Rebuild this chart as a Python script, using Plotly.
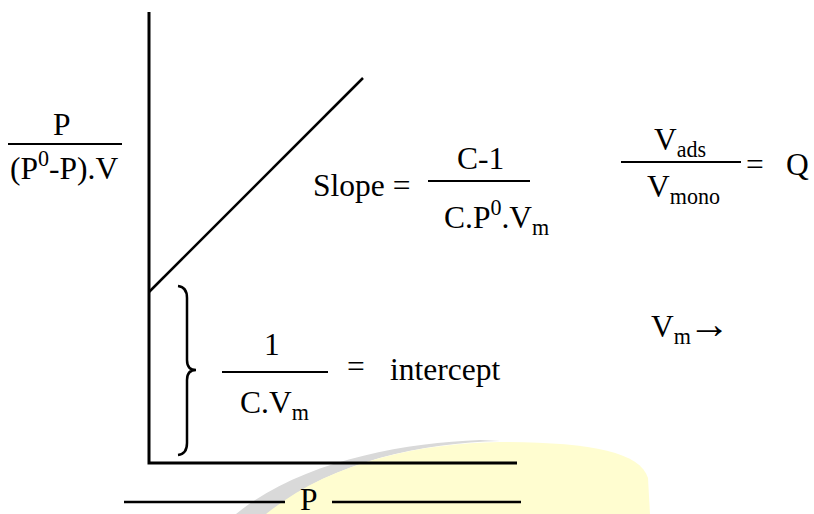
import plotly.graph_objects as go

# BET plot: P/((P0-P)V) against P is a straight line
intercept = 171.0          # 1 / (C.Vm)
slope = 1.0                # (C-1) / (C.P0.Vm)
p_line = [0.0, 214.0]      # pressure span of the fitted line
p_axis_max = 368.0         # extent of the P axis
y_axis_max = 451.0         # extent of the vertical axis

W, H = 814, 514
OX, OY = 149, 463          # page position of the plot origin

def d(xp, yp):
    """page pixel -> data coordinates"""
    return xp - OX, OY - yp

FONT = dict(family="Liberation Serif", size=31.5, color="black")

fig = go.Figure()

# axes of the diagram
fig.add_trace(go.Scatter(x=[0, 0, p_axis_max], y=[y_axis_max, 0, 0], mode="lines",
                         line=dict(color="black", width=3), hoverinfo="skip"))
# BET line
fig.add_trace(go.Scatter(x=p_line, y=[intercept + slope * p for p in p_line], mode="lines",
                         line=dict(color="black", width=2.5), hoverinfo="skip"))

shapes = []

def seg(x0, y0, x1, y1, w=2.5):
    a = d(x0, y0); b = d(x1, y1)
    shapes.append(dict(type="line", xref="x", yref="y", x0=a[0], y0=a[1], x1=b[0], y1=b[1],
                       line=dict(color="black", width=w)))

def svgpath(cmds, fill, lw=0, lc="rgba(0,0,0,0)", layer="below"):
    out = []
    for c in cmds:
        if isinstance(c, str):
            out.append(c)
        else:
            x, y = d(*c)
            out.append(f"{x},{y}")
    shapes.append(dict(type="path", xref="x", yref="y", path=" ".join(out),
                       fillcolor=fill, line=dict(color=lc, width=lw), layer=layer))

# soft yellow backdrop at the bottom with grey rim
svgpath(["M", (236, 514), "C", (300, 462), (400, 443), (480, 440), "L", (500, 441),
         "C", (420, 443), (330, 462), (268, 514), "Z"], "#d9d9d9")
svgpath(["M", (266, 514), "C", (330, 462), (420, 443), (500, 442), "C", (590, 442),
         (640, 452), (648, 478), "L", (650, 514), "Z"], "#fffdd0")

# pressure axis label rules
seg(124, 502, 285, 502)
seg(332, 502, 521, 502)

# fraction bars
seg(8, 144, 122, 144, 2)
seg(428, 181, 530, 181, 2)
seg(621, 162, 741, 162, 2)
seg(222, 372, 328, 372, 2)

# curly brace marking the intercept
svgpath(["M", (178, 286), "Q", (187, 287), (187, 298), "L", (187, 360),
         "Q", (187, 370), (196, 370), "Q", (187, 370), (187, 380), "L", (187, 443),
         "Q", (187, 454), (178, 455)], "rgba(0,0,0,0)", lw=2.5, lc="black", layer="above")

annotations = []

def txt(s, xp, yp, anchor="center", size=None):
    x, y = d(xp, yp)
    f = dict(FONT) if size is None else dict(FONT, size=size)
    annotations.append(dict(x=x, y=y, xref="x", yref="y", text=s, showarrow=False,
                            xanchor=anchor, yanchor="middle", font=f))

txt("P", 62, 124)
txt("(P<sup>0</sup>-P).V", 64, 166)
txt("Slope =", 361, 185)
txt("C-1", 480, 158)
txt("C.P<sup>0</sup>.V<sub>m</sub>", 496, 217)
txt("V<sub>ads</sub>", 680, 142)
txt("V<sub>mono</sub>", 683, 189)
txt("=", 755, 164)
txt("Q", 797, 164)
txt("1", 272, 344)
txt("C.V<sub>m</sub>", 274, 405)
txt("=", 356, 366)
txt("intercept", 445, 369)
txt("V<sub>m</sub>", 671, 329)
txt("→", 709, 324, size=42)
txt("P", 309, 499)

fig.update_layout(
    width=W, height=H, margin=dict(l=0, r=0, t=0, b=0),
    paper_bgcolor="white", plot_bgcolor="white", showlegend=False,
    xaxis=dict(range=[-OX, W - OX], visible=False, fixedrange=True),
    yaxis=dict(range=[OY - H, OY], visible=False, fixedrange=True),
    shapes=shapes, annotations=annotations,
)

fig.write_html("out.html")
